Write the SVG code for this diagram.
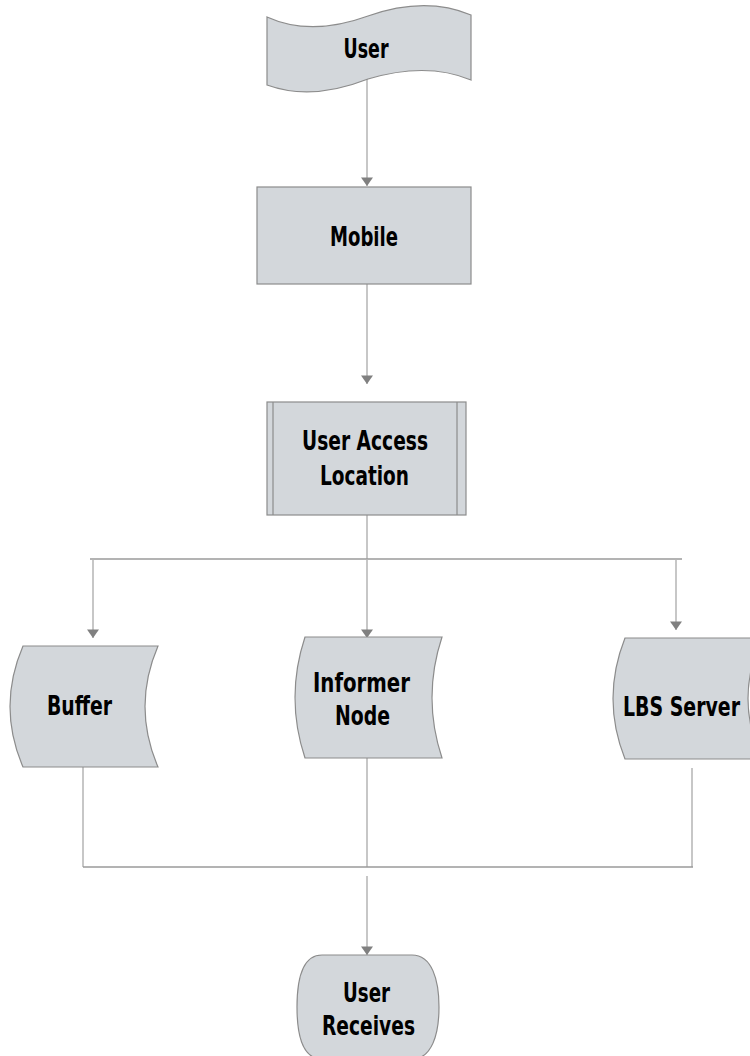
<svg xmlns="http://www.w3.org/2000/svg" width="750" height="1056" viewBox="0 0 750 1056">
<defs>
<style>
.node{fill:#d3d7db;stroke:#8c8c8c;stroke-width:1.2}
.inner{fill:none;stroke:#8c8c8c;stroke-width:1.2}
.lbl{font-family:"DejaVu Sans Condensed","DejaVu Sans",sans-serif;font-weight:bold;font-size:26px;fill:#000;text-anchor:middle}
.con{fill:none;stroke:#b4b4b4;stroke-width:1.5}
.bus{fill:none;stroke:#9a9a9a;stroke-width:1.5}
</style>
<marker id="arr" viewBox="0 0 10 14" refX="10" refY="7" markerWidth="9" markerHeight="12" orient="auto" markerUnits="userSpaceOnUse">
<path d="M0,0 L10,7 L0,14 Z" fill="#808080"/>
</marker>
</defs>
<rect width="750" height="1056" fill="#fff"/>
<g id="connectors">
<line class="con" x1="367" y1="78" x2="367" y2="186" marker-end="url(#arr)"/>
<line class="con" x1="367" y1="284" x2="367" y2="384" marker-end="url(#arr)"/>
<line class="con" x1="367" y1="515" x2="367" y2="559"/>
<line class="bus" x1="90" y1="559" x2="682" y2="559"/>
<line class="con" x1="93" y1="559" x2="93" y2="638" marker-end="url(#arr)"/>
<line class="con" x1="367" y1="559" x2="367" y2="638" marker-end="url(#arr)"/>
<line class="con" x1="676" y1="559" x2="676" y2="630" marker-end="url(#arr)"/>
<line class="con" x1="83" y1="767" x2="83" y2="867"/>
<line class="con" x1="367" y1="758" x2="367" y2="867"/>
<line class="con" x1="692" y1="768" x2="692" y2="867"/>
<line class="bus" x1="83" y1="867" x2="693" y2="867"/>
<line class="con" x1="367" y1="876" x2="367" y2="955" marker-end="url(#arr)"/>
</g>
<g id="user">
<path class="node" d="M267,17 C300,32 335,28 368,16 C405,3 440,2 471,15 L471,80 C440,67 405,68 368,79 C335,92 300,97 267,85 Z"/>
<text class="lbl" x="366" y="58" textLength="45" lengthAdjust="spacingAndGlyphs">User</text>
</g>
<g id="mobile">
<rect class="node" x="257" y="187" width="214" height="97"/>
<text class="lbl" x="364" y="246" textLength="68" lengthAdjust="spacingAndGlyphs">Mobile</text>
</g>
<g id="access">
<rect class="node" x="267" y="402" width="199" height="113"/>
<line class="inner" x1="273" y1="402" x2="273" y2="515"/>
<line class="inner" x1="457" y1="402" x2="457" y2="515"/>
<text class="lbl" x="365" y="450" textLength="126" lengthAdjust="spacingAndGlyphs">User Access</text>
<text class="lbl" x="364.5" y="485" textLength="89" lengthAdjust="spacingAndGlyphs">Location</text>
</g>
<g id="buffer">
<path class="node" d="M23,646 L158,646 Q132,706.5 158,767 L23,767 Q-3,706.5 23,646 Z"/>
<text class="lbl" x="79.5" y="715" textLength="65" lengthAdjust="spacingAndGlyphs">Buffer</text>
</g>
<g id="informer">
<path class="node" d="M305,637 L442,637 Q422,697.5 442,758 L305,758 Q285,697.5 305,637 Z"/>
<text class="lbl" x="361.5" y="692" textLength="97" lengthAdjust="spacingAndGlyphs">Informer</text>
<text class="lbl" x="362.5" y="725" textLength="55" lengthAdjust="spacingAndGlyphs">Node</text>
</g>
<g id="lbs">
<path class="node" d="M625,638 L762,638 Q734,698.5 762,759 L625,759 Q601,698.5 625,638 Z"/>
<text class="lbl" x="681.5" y="716" textLength="117" lengthAdjust="spacingAndGlyphs">LBS Server</text>
</g>
<g id="receives">
<path class="node" d="M322,955 L412,955 C432,955 439,980 439,1007 C439,1034 432,1059 412,1059 L322,1059 C302,1059 297,1034 297,1007 C297,980 302,955 322,955 Z"/>
<text class="lbl" x="366.5" y="1002" textLength="47" lengthAdjust="spacingAndGlyphs">User</text>
<text class="lbl" x="368.5" y="1035" textLength="93" lengthAdjust="spacingAndGlyphs">Receives</text>
</g>
</svg>
